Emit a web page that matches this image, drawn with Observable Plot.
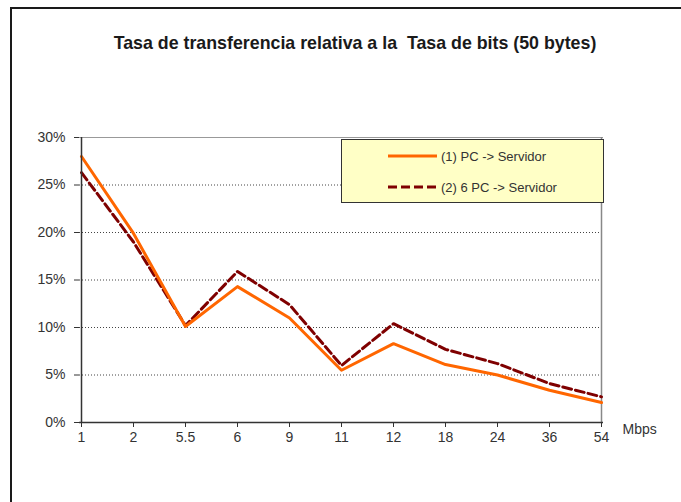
<!DOCTYPE html>
<html><head><meta charset="utf-8">
<script src="https://cdn.jsdelivr.net/npm/d3@7"></script>
<script src="https://cdn.jsdelivr.net/npm/@observablehq/plot@0.6"></script>
<style>
html,body{margin:0;padding:0;background:#fff;}
#wrap{position:relative;width:681px;height:502px;overflow:hidden;font-family:Arial,"Liberation Sans",sans-serif;background:#fff;}
#frame{position:absolute;left:10px;top:7px;width:800px;height:700px;border:2px solid #1a1a1a;box-sizing:border-box;}
#title{position:absolute;left:0;top:32px;width:710px;line-height:22px;text-align:center;font-weight:bold;font-size:17.8px;color:#1a1a1a;}
#chart{position:absolute;left:0;top:60px;}
#legend{position:absolute;left:341px;top:139px;width:263px;height:64px;background:#FFFFC6;border:1px solid #333;box-sizing:border-box;}
.row{position:absolute;left:46px;height:20px;display:flex;align-items:center;font-size:13px;color:#333;}
.row svg{margin-right:4px;}
</style>
</head><body>
<div id="wrap">
  <div id="frame"></div>
  <div id="title">Tasa de transferencia relativa a la&nbsp; Tasa de bits (50 bytes)</div>
  <div id="chart"></div>
  <div id="legend"></div>
</div>
<script>
const categories = ["1","2","5.5","6","9","11","12","18","24","36","54"];
const pcServidor = [0.280,0.199,0.101,0.143,0.110,0.055,0.083,0.061,0.050,0.034,0.021];
const seisPcServidor = [0.263,0.190,0.102,0.159,0.124,0.060,0.104,0.077,0.062,0.041,0.027];
const seriesNames = ["(1) PC -> Servidor","(2) 6 PC -> Servidor"];
const yTicks = [0,0.05,0.10,0.15,0.20,0.25,0.30];
const gridTicks = [0.05,0.10,0.15,0.20,0.25];
const xUnit = "Mbps";

const colors = ["#FF6600","#7F0000"];
const dashes = [null,"9,4"];

const s1 = categories.map((c,i)=>({x:c, y:pcServidor[i]}));
const s2 = categories.map((c,i)=>({x:c, y:seisPcServidor[i]}));

const chart = Plot.plot({
  width: 681,
  height: 442,
  marginLeft: 79,
  marginRight: 78,
  marginTop: 77,
  marginBottom: 80,
  style: {fontFamily: "Arial, 'Liberation Sans', sans-serif", fontSize: "14px", color: "#333", background: "transparent", overflow: "visible"},
  x: {type: "point", domain: categories, padding: 0},
  y: {domain: [0, 0.3]},
  marks: [
    Plot.ruleY(gridTicks, {stroke: "#444", strokeDasharray: "1,2", strokeWidth: 1}),
    Plot.ruleY([0.3], {stroke: "#999", strokeWidth: 1}),
    Plot.ruleX([categories[categories.length-1]], {stroke: "#888", strokeWidth: 1.5}),
    Plot.line(s2, {x: "x", y: "y", stroke: colors[1], strokeWidth: 3, strokeDasharray: dashes[1], strokeLinejoin: "round"}),
    Plot.line(s1, {x: "x", y: "y", stroke: colors[0], strokeWidth: 3, strokeLinejoin: "round"}),
    Plot.ruleX([categories[0]], {stroke: "#333", strokeWidth: 1.5}),
    Plot.ruleY([0], {stroke: "#333", strokeWidth: 1.5}),
    Plot.axisY({ticks: yTicks, tickFormat: d3.format(".0%"), tickSize: 5, tickPadding: 9, stroke: "#333", fill: "#333", fontSize: 14, label: null}),
    Plot.axisX({tickSize: 5, tickPadding: 5, stroke: "#333", fill: "#333", fontSize: 14, label: null}),
    Plot.text([xUnit], {frameAnchor: "bottom-right", dx: 19, dy: 11, textAnchor: "start", fill: "#333", fontSize: 14})
  ]
});
document.getElementById("chart").appendChild(chart);

const legend = document.getElementById("legend");
seriesNames.forEach((name, i) => {
  const row = document.createElement("div");
  row.className = "row";
  row.style.top = (i === 0 ? 6 : 37) + "px";
  row.innerHTML = `<svg width="49" height="6"><line x1="0" x2="49" y1="3" y2="3" stroke="${colors[i]}" stroke-width="3" ${dashes[i] ? `stroke-dasharray="${dashes[i]}"` : ""}/></svg><span>${name}</span>`;
  legend.appendChild(row);
});
</script>
</body></html>
